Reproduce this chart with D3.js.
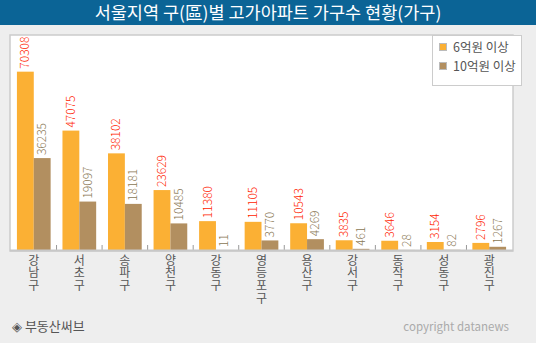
<!DOCTYPE html>
<html><head><meta charset="utf-8">
<script src="https://cdn.jsdelivr.net/npm/d3@7"></script>
<style>
html,body{margin:0;padding:0;background:#eeeeee;}
svg{display:block;font-family:"Noto Sans CJK KR","Noto Sans",sans-serif;}
.vlab{writing-mode:vertical-rl;text-orientation:upright;}
</style></head><body>
<svg id="chart" width="536" height="343"></svg>
<script>
const categories = ["강남구","서초구","송파구","양천구","강동구","영등포구","용산구","강서구","동작구","성동구","광진구"];
const series6 = [70308,47075,38102,23629,11380,11105,10543,3835,3646,3154,2796];
const series10 = [36235,19097,18181,10485,11,3770,4269,461,28,82,1267];
const seriesNames = ["6억원 이상","10억원 이상"];
const colors = ["#fbb034","#b28f60"];
const labelColors = ["#ff2200","#8a7754"];
const title = "서울지역 구(區)별 고가아파트 가구수 현황(가구)";

const svg = d3.select("#chart");
svg.append("rect").attr("x",0).attr("y",0).attr("width",536).attr("height",343).attr("fill","#eeeeee");
svg.append("rect").attr("x",0).attr("y",0).attr("width",536).attr("height",25).attr("fill","#0b6496");
svg.append("text").attr("x",268).attr("y",19).attr("text-anchor","middle")
  .attr("fill","#fff").attr("font-size","17.5px").text(title);

const pL=11, pR=512, pT=36, pB=250;
svg.append("rect").attr("x",pL-1).attr("y",pT-1).attr("width",pR-pL+2).attr("height",pB-pT+2)
  .attr("fill","#fff").attr("stroke","#cccccc").attr("stroke-width",1.5);

const x = d3.scaleBand().domain(categories).range([pL,pR]).paddingInner(0.26).paddingOuter(0.13);
const xs = d3.scaleBand().domain([0,1]).range([0,x.bandwidth()]);
const ymax = d3.max(series6)*1.2;
const y = d3.scaleLinear().domain([0,ymax]).range([pB,pT]);

const tickX = d3.range(1,categories.length).map(i=>pL + i*(pR-pL)/categories.length);
svg.selectAll(".tk").data(tickX).enter().append("line")
  .attr("x1",d=>d).attr("x2",d=>d).attr("y1",pB-5).attr("y2",pB).attr("stroke","#999");

[series6,series10].forEach((s,si)=>{
  const g = svg.append("g");
  g.selectAll("rect").data(s).enter().append("rect")
    .attr("x",(d,i)=>x(categories[i])+xs(si))
    .attr("y",d=>y(d)).attr("width",xs.bandwidth()).attr("height",d=>pB-y(d))
    .attr("fill",colors[si]);
  g.selectAll("text").data(s).enter().append("text")
    .attr("transform",(d,i)=>{
      const cx = x(categories[i])+xs(si)+xs.bandwidth()/2+4;
      return `translate(${cx},${y(d)-3}) rotate(-90)`;
    })
    .attr("font-size","12px").attr("font-weight","300").attr("fill",labelColors[si]).text(d=>d);
});

svg.append("line").attr("x1",pL-1).attr("x2",pR+1).attr("y1",pB+0.5).attr("y2",pB+0.5)
  .attr("stroke","#c8c8c8").attr("stroke-width",2);

svg.selectAll(".vlab").data(categories).enter().append("text")
  .attr("class","vlab")
  .attr("x",c=>x(c)+x.bandwidth()/2).attr("y",254)
  .attr("font-size","12px").attr("letter-spacing","0.7px").attr("fill","#555")
  .text(c=>c);

const lg = svg.append("g");
lg.append("rect").attr("x",432.5).attr("y",35.5).attr("width",89).attr("height",50)
  .attr("fill","#fff").attr("stroke","#cccccc");
seriesNames.forEach((n,i)=>{
  lg.append("rect").attr("x",439.5).attr("y",43.5+i*19).attr("width",7).attr("height",7)
    .attr("fill",colors[i]).attr("stroke","#bbb");
  lg.append("text").attr("x",453).attr("y",52+i*19).attr("font-size","12.5px").attr("fill","#555").text(n);
});

svg.append("text").attr("x",12).attr("y",331).attr("font-size","13px").attr("fill","#555").text("◈ 부동산써브");
svg.append("text").attr("x",509).attr("y",331).attr("text-anchor","end").attr("font-size","11.5px").attr("fill","#aaa").text("copyright datanews");
</script>
</body></html>
